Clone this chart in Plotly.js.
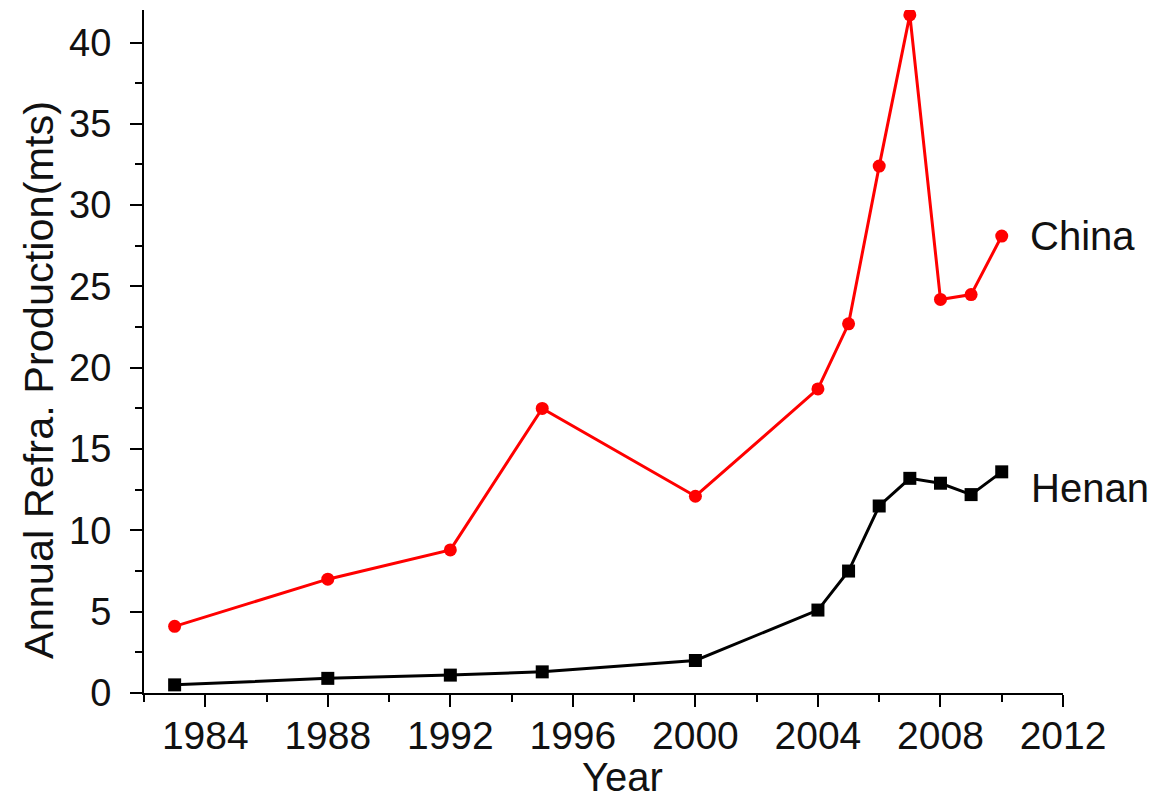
<!DOCTYPE html>
<html>
<head>
<meta charset="utf-8">
<script src="https://cdn.plot.ly/plotly-3.0.1.min.js"></script>
<style>html,body{margin:0;padding:0;background:#fff;}#chart{width:1156px;height:803px;}</style>
</head>
<body>
<div id="chart"></div>
<script>
const years = [1983, 1988, 1992, 1995, 2000, 2004, 2005, 2006, 2007, 2008, 2009, 2010];
const china = [4.1, 7.0, 8.8, 17.5, 12.1, 18.7, 22.7, 32.4, 41.7, 24.2, 24.5, 28.1];
const henan = [0.5, 0.9, 1.1, 1.3, 2.0, 5.1, 7.5, 11.5, 13.2, 12.9, 12.2, 13.6];
const seriesNames = ["China", "Henan"];
const xTitle = "Year";
const yTitle = "Annual Refra. Production(mts)";

const FONT = "Liberation Sans, Arial, sans-serif";
const W = 1156, H = 803, L = 144, R = 93, T = 10, B = 110;
const pw = W - L - R, ph = H - T - B;
const px2x = p => (p - L) / pw;
const px2y = p => (H - B - p) / ph;

const traces = [
  {x: years, y: china, name: seriesNames[0], mode: "lines+markers", type: "scatter",
   line: {color: "#ff0000", width: 3}, marker: {symbol: "circle", size: 13, color: "#ff0000"}},
  {x: years, y: henan, name: seriesNames[1], mode: "lines+markers", type: "scatter",
   line: {color: "#000000", width: 3}, marker: {symbol: "square", size: 13, color: "#000000"}}
];

const annotations = [
  {x: 2010.85, y: china[china.length - 1], xref: "x", yref: "y", xanchor: "left",
   text: seriesNames[0], showarrow: false, font: {family: FONT, size: 40, color: "#111"}},
  {x: 2010.9, y: 12.6, xref: "x", yref: "y", xanchor: "left",
   text: seriesNames[1], showarrow: false, font: {family: FONT, size: 40, color: "#111"}},
  {x: px2x(622), y: px2y(801), xref: "paper", yref: "paper", xanchor: "center", yanchor: "bottom",
   text: xTitle, showarrow: false, font: {family: FONT, size: 40, color: "#111"}},
  {x: px2x(38), y: px2y(380), xref: "paper", yref: "paper", xanchor: "center", yanchor: "middle",
   textangle: -90, text: yTitle, showarrow: false, font: {family: FONT, size: 41.5, color: "#111"}}
];

const layout = {
  width: W, height: H,
  margin: {l: L, r: R, t: T, b: B},
  paper_bgcolor: "#fff", plot_bgcolor: "#fff",
  showlegend: false,
  font: {family: FONT, color: "#111"},
  xaxis: {
    range: [1982, 2012], tick0: 1984, dtick: 4, ticks: "outside", ticklen: 12, tickwidth: 2,
    tickcolor: "#000", showline: true, linecolor: "#000", linewidth: 2, showgrid: false, zeroline: false,
    tickfont: {family: FONT, size: 39, color: "#111"}, ticklabelstandoff: -5,
    minor: {dtick: 2, tick0: 1984, ticks: "outside", ticklen: 7, tickwidth: 2, tickcolor: "#000", showgrid: false}
  },
  yaxis: {
    range: [0, 42], tick0: 0, dtick: 5, ticks: "outside", ticklen: 12, tickwidth: 2,
    tickcolor: "#000", showline: true, linecolor: "#000", linewidth: 2, showgrid: false, zeroline: false,
    tickfont: {family: FONT, size: 38, color: "#111"}, ticklabelstandoff: 11,
    minor: {dtick: 2.5, tick0: 0, ticks: "outside", ticklen: 7, tickwidth: 2, tickcolor: "#000", showgrid: false}
  },
  annotations: annotations
};

Plotly.newPlot("chart", traces, layout, {displayModeBar: false, staticPlot: true});
</script>
</body>
</html>
